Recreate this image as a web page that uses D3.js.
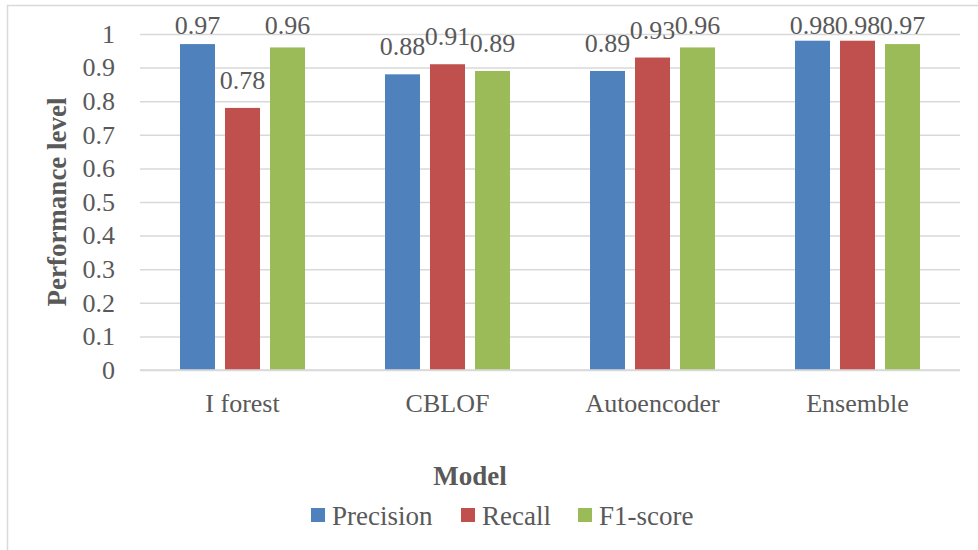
<!DOCTYPE html>
<html>
<head>
<meta charset="utf-8">
<script src="https://cdn.jsdelivr.net/npm/d3@7"></script>
<style>
  html, body { margin: 0; padding: 0; background: #fff; }
  svg { display: block; }
  text { font-family: "Liberation Serif", "Times New Roman", serif; fill: #595959; }
</style>
</head>
<body>
<svg id="chart" width="978" height="550"></svg>
<script>
// Model performance data
const models = ["I forest", "CBLOF", "Autoencoder", "Ensemble"];
const seriesNames = ["Precision", "Recall", "F1-score"];
const precision = [0.97, 0.88, 0.89, 0.98];
const recall = [0.78, 0.91, 0.93, 0.98];
const f1score = [0.96, 0.89, 0.96, 0.97];
const yTicks = [0, 0.1, 0.2, 0.3, 0.4, 0.5, 0.6, 0.7, 0.8, 0.9, 1];
const colors = ["#4F81BD", "#C0504D", "#9BBB59"];

const seriesValues = [precision, recall, f1score];

const svg = d3.select("#chart");

// chart frame
svg.append("rect")
  .attr("x", 7.5).attr("y", 5.5)
  .attr("width", 1000).attr("height", 600)
  .attr("fill", "#fff").attr("stroke", "#D9D9D9").attr("stroke-width", 1.5);

const plot = { left: 140, right: 960, top: 34, bottom: 370 };

const x0 = d3.scaleBand().domain(models).range([plot.left, plot.right]).padding(0);
const groupWidth = 125;
const x1 = d3.scaleBand().domain(seriesNames).range([0, groupWidth]).paddingInner(0.222).paddingOuter(0);
const y = d3.scaleLinear().domain([0, 1]).range([plot.bottom, plot.top]);

// horizontal gridlines + y labels
const yAxis = d3.axisLeft(y).tickValues(yTicks).tickSize(-(plot.right - plot.left)).tickPadding(25)
  .tickFormat(d => d3.format("")(+d.toFixed(1)));
const gy = svg.append("g").attr("transform", `translate(${plot.left},0)`).call(yAxis);
gy.select(".domain").remove();
gy.selectAll(".tick line").attr("stroke", "#D9D9D9").attr("stroke-width", 1.5);
gy.selectAll(".tick text")
  .attr("font-size", 26).attr("fill", "#595959")
  .style("font-family", "'Liberation Serif', serif");

// bars
const groups = svg.append("g").selectAll("g")
  .data(models)
  .join("g")
  .attr("transform", d => `translate(${x0(d) + (x0.bandwidth() - groupWidth) / 2},0)`);

groups.selectAll("rect")
  .data((m, i) => seriesNames.map((s, j) => ({ s, j, v: seriesValues[j][i] })))
  .join("rect")
  .attr("x", d => x1(d.s))
  .attr("width", x1.bandwidth())
  .attr("y", d => y(d.v))
  .attr("height", d => y(0) - y(d.v))
  .attr("fill", d => colors[d.j]);

// value labels
groups.selectAll("text.val")
  .data((m, i) => seriesNames.map((s, j) => ({ s, j, v: seriesValues[j][i] })))
  .join("text")
  .attr("class", "val")
  .attr("x", d => x1(d.s) + x1.bandwidth() / 2)
  .attr("y", d => Math.max(y(d.v) - 19, 34))
  .attr("text-anchor", "middle")
  .attr("font-size", 26)
  .text(d => d.v);

// x axis line
svg.append("line")
  .attr("x1", plot.left).attr("x2", plot.right)
  .attr("y1", y(0)).attr("y2", y(0))
  .attr("stroke", "#D9D9D9").attr("stroke-width", 1.5);

// category labels
const xAxis = d3.axisBottom(x0).tickSize(0).tickPadding(0);
const gx = svg.append("g").attr("transform", `translate(0,${plot.bottom})`).call(xAxis);
gx.select(".domain").remove();
gx.selectAll(".tick text")
  .attr("font-size", 26).attr("dy", null).attr("y", 42).attr("fill", "#595959")
  .style("font-family", "'Liberation Serif', serif");

// axis titles
svg.append("text")
  .attr("transform", `translate(66,${(plot.top + plot.bottom) / 2}) rotate(-90)`)
  .attr("text-anchor", "middle")
  .attr("font-size", 27).attr("font-weight", "bold")
  .text("Performance level");

svg.append("text")
  .attr("x", 470).attr("y", 485)
  .attr("text-anchor", "middle")
  .attr("font-size", 27).attr("font-weight", "bold")
  .text("Model");

// legend
const legendX = [311, 461, 578];
const legend = svg.append("g").selectAll("g")
  .data(seriesNames)
  .join("g")
  .attr("transform", (d, i) => `translate(${legendX[i]},508)`);
legend.append("rect").attr("width", 14).attr("height", 14).attr("fill", (d, i) => colors[i]);
legend.append("text").attr("x", 21).attr("y", 17).attr("font-size", 27).text(d => d);
</script>
</body>
</html>
